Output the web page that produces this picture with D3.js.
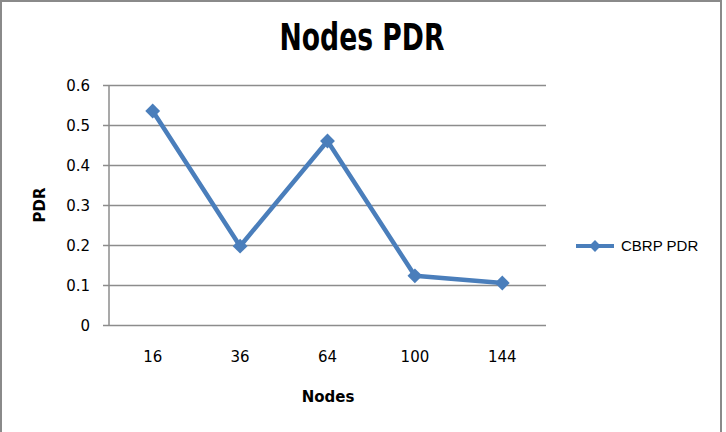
<!DOCTYPE html>
<html>
<head>
<meta charset="utf-8">
<script src="https://cdn.jsdelivr.net/npm/d3@7"></script>
<style>
  body { margin: 0; background: #fff; }
  svg { display: block; }
</style>
</head>
<body>
<div id="chart"></div>
<script>
// data
const nodes = ["16", "36", "64", "100", "144"];
const pdr = [0.535, 0.197, 0.46, 0.123, 0.105];
const yTicks = [0, 0.1, 0.2, 0.3, 0.4, 0.5, 0.6];
const seriesName = "CBRP PDR";

const W = 726, H = 432;
const margin = {top: 85, right: 180, bottom: 107, left: 109},
    width = W - margin.left - margin.right,
    height = H - margin.top - margin.bottom;

const blue = "#4a7ebb";
const gridColor = "#8c8c8c";

const root = d3.select("#chart")
  .append("svg")
  .attr("width", W)
  .attr("height", H);

// outer frame
root.append("rect")
  .attr("x", 1).attr("y", 1)
  .attr("width", 720).attr("height", H + 4)
  .attr("fill", "none")
  .attr("stroke", "#8a8a8a")
  .attr("stroke-width", 2);

// title
root.append("text")
  .attr("x", 362).attr("y", 50)
  .attr("text-anchor", "middle")
  .attr("font-family", "DejaVu Sans Condensed, DejaVu Sans")
  .attr("font-weight", "bold")
  .attr("font-size", 37)
  .attr("textLength", 165)
  .attr("lengthAdjust", "spacingAndGlyphs")
  .text("Nodes PDR");

const svg = root.append("g")
  .attr("transform", `translate(${margin.left},${margin.top})`);

// X scale
const x = d3.scaleBand()
  .range([0, width])
  .domain(nodes);

// Y scale
const y = d3.scaleLinear()
  .domain([0, 0.6])
  .range([height, 0]);

// gridlines + Y axis
const yAxis = d3.axisLeft(y)
  .tickValues(yTicks)
  .tickSize(-width)
  .tickFormat(d => d === 0 ? "0" : d3.format(".1f")(d));

const gy = svg.append("g").call(yAxis);
gy.select(".domain").remove();
gy.selectAll(".tick line")
  .attr("x1", -6)
  .attr("stroke", gridColor)
  .attr("stroke-width", 1.5);
gy.selectAll(".tick text")
  .attr("x", -19)
  .attr("dy", "0.36em")
  .attr("font-family", "DejaVu Sans")
  .attr("font-size", 15)
  .attr("fill", "#000");

// vertical axis line
svg.append("line")
  .attr("x1", 0).attr("x2", 0)
  .attr("y1", 0).attr("y2", height)
  .attr("stroke", gridColor)
  .attr("stroke-width", 1.5);

// X axis labels
const gx = svg.append("g")
  .attr("transform", `translate(0, ${height})`)
  .call(d3.axisBottom(x).tickSize(0));
gx.select(".domain").remove();
gx.selectAll(".tick text")
  .attr("y", 37)
  .attr("dy", 0)
  .attr("font-family", "DejaVu Sans")
  .attr("font-size", 15)
  .attr("fill", "#000");

// axis titles
root.append("text")
  .attr("transform", "translate(45,205) rotate(-90)")
  .attr("text-anchor", "middle")
  .attr("font-family", "DejaVu Sans")
  .attr("font-weight", "bold")
  .attr("font-size", 15)
  .text("PDR");

root.append("text")
  .attr("x", 328).attr("y", 402)
  .attr("text-anchor", "middle")
  .attr("font-family", "DejaVu Sans")
  .attr("font-weight", "bold")
  .attr("font-size", 15)
  .text("Nodes");

// line
const points = nodes.map((n, i) => ({node: n, value: pdr[i]}));
const line = d3.line()
  .x(d => x(d.node) + x.bandwidth() / 2)
  .y(d => y(d.value));

svg.append("path")
  .datum(points)
  .attr("fill", "none")
  .attr("stroke", blue)
  .attr("stroke-width", 4.5)
  .attr("stroke-linejoin", "round")
  .attr("d", line);

// diamond markers
const diamond = d3.symbol().type(d3.symbolSquare).size(110);
svg.selectAll("mymarker")
  .data(points)
  .join("path")
  .attr("d", diamond)
  .attr("transform", d => `translate(${x(d.node) + x.bandwidth() / 2},${y(d.value)}) rotate(45)`)
  .attr("fill", blue);

// legend
const lg = root.append("g").attr("transform", "translate(576,246)");
lg.append("line")
  .attr("x1", 0).attr("x2", 38)
  .attr("stroke", blue)
  .attr("stroke-width", 4);
lg.append("path")
  .attr("d", d3.symbol().type(d3.symbolSquare).size(70))
  .attr("transform", "translate(19,0) rotate(45)")
  .attr("fill", blue);
lg.append("text")
  .attr("x", 45).attr("y", 0)
  .attr("dy", "0.36em")
  .attr("font-family", "Liberation Sans")
  .attr("font-size", 15)
  .text(seriesName);
</script>
</body>
</html>
